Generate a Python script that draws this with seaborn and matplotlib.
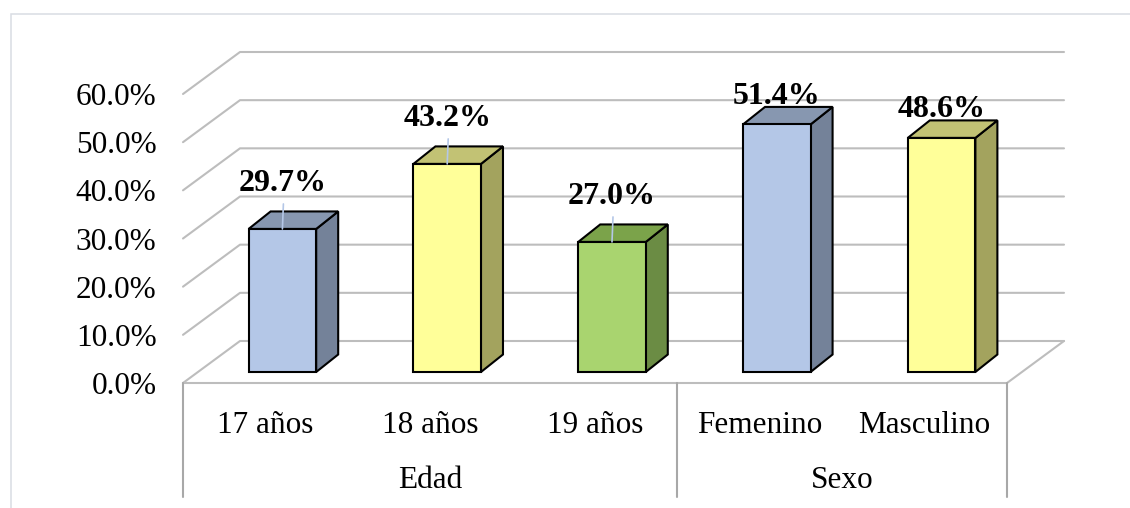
import numpy as np
import pandas as pd
import matplotlib
matplotlib.use("Agg")
import matplotlib.pyplot as plt
from matplotlib.patches import Polygon, Rectangle
from matplotlib.lines import Line2D
from matplotlib.transforms import ScaledTranslation, IdentityTransform, blended_transform_factory
import seaborn as sns

# ---- data -------------------------------------------------------------
categories = ["17 años", "18 años", "19 años", "Femenino", "Masculino"]
groups = ["Edad", "Sexo"]
group_sizes = [3, 2]
percentages = [29.7, 43.2, 27.0, 51.4, 48.6]
y_ticks = [0, 10, 20, 30, 40, 50, 60]

# ---- colours (front / top / side faces of each bar) --------------------
front_colors = ["#B4C7E7", "#FFFF99", "#A9D46F", "#B4C7E7", "#FFFF99"]
top_colors = ["#8797B0", "#C2C274", "#7BA34A", "#8797B0", "#C2C274"]
side_colors = ["#748299", "#A3A35E", "#6B8C44", "#748299", "#A3A35E"]
GRID = "#BDBDBD"
TABLE = "#A8A8A8"
LEADER = "#B4C7E7"

sns.set_theme(style="white")
plt.rcParams["font.family"] = ["Liberation Serif", "DejaVu Serif"]

DPI = 100
W, H = 1130, 508
fig = plt.figure(figsize=(W / DPI, H / DPI), dpi=DPI)
fig.patch.set_facecolor("white")

# axes = front plane of the floor / wall box
ax = fig.add_axes([183 / W, 125 / H, 824 / W, 289 / H])
ax.patch.set_alpha(0)

df = pd.DataFrame({"categoria": categories, "porcentaje": percentages})
sns.barplot(data=df, x="categoria", y="porcentaje", hue="categoria",
            palette=front_colors, saturation=1, width=0.41,
            edgecolor="black", linewidth=1.5, legend=False, ax=ax, zorder=3)

ax.set_xlim(-0.5, len(categories) - 0.5)
ax.set_ylim(y_ticks[0], y_ticks[-1])
for s in ax.spines.values():
    s.set_visible(False)
ax.set_xlabel("")
ax.set_ylabel("")

# depth vectors (pixels) of the oblique projection
WALL = np.array([57.0, 42.0])
BAR_FRONT = np.array([17.0, 11.0])
BAR_DEPTH = np.array([22.0, 17.5])


def px(x, y, shift=(0.0, 0.0)):
    return ax.transData.transform((x, y)) + np.asarray(shift)


ident = IdentityTransform()
x0, x1 = ax.get_xlim()

# back wall gridlines and side-wall diagonals
for t in y_ticks:
    fl, bl, br = px(x0, t), px(x0, t, WALL), px(x1, t, WALL)
    ax.add_line(Line2D([fl[0], bl[0], br[0]], [fl[1], bl[1], br[1]],
                       transform=ident, color=GRID, lw=1.5,
                       clip_on=False, zorder=1))
# floor front edge and right diagonal
f0, f1, b1 = px(x0, 0), px(x1, 0), px(x1, 0, WALL)
ax.add_line(Line2D([f0[0], f1[0], b1[0]], [f0[1], f1[1], b1[1]],
                   transform=ident, color=GRID, lw=1.5,
                   clip_on=False, zorder=1))

# 3D bars: move front faces, add top and side faces
front_shift = ScaledTranslation(BAR_FRONT[0] / DPI, BAR_FRONT[1] / DPI,
                                fig.dpi_scale_trans)
for patch in list(ax.patches):
    xl = patch.get_x()
    w = patch.get_width()
    h = patch.get_height()
    i = int(round(xl + w / 2))
    patch.set_transform(ax.transData + front_shift)
    patch.set_zorder(4)
    frb = px(xl + w, 0, BAR_FRONT)
    flt = px(xl, h, BAR_FRONT)
    frt = px(xl + w, h, BAR_FRONT)
    side = Polygon([frb, frt, frt + BAR_DEPTH, frb + BAR_DEPTH], closed=True,
                   facecolor=side_colors[i], edgecolor="black", lw=1.5,
                   transform=ident, clip_on=False, zorder=3)
    top = Polygon([flt, frt, frt + BAR_DEPTH, flt + BAR_DEPTH], closed=True,
                  facecolor=top_colors[i], edgecolor="black", lw=1.5,
                  transform=ident, clip_on=False, zorder=3)
    ax.add_patch(side)
    ax.add_patch(top)

    # value label with leader line
    ctop = px(xl + w / 2, h, BAR_FRONT)
    gap = 45 if h < 45 else 28
    if gap > 30:
        ax.add_line(Line2D([ctop[0], ctop[0] + 1], [ctop[1], ctop[1] + 25],
                           transform=ident, color=LEADER, lw=1.2,
                           clip_on=False, zorder=5))
    ax.text(ctop[0], ctop[1] + gap, f"{percentages[i]:.1f}%",
            transform=ident, ha="center", va="center",
            fontsize=23, fontweight="bold", color="black", zorder=6)

# axis ticks
ax.set_yticks(y_ticks)
ax.set_yticklabels([f"{t:.1f}%" for t in y_ticks])
ax.tick_params(axis="y", length=0, pad=19, labelsize=22.5, labelcolor="black")
ax.set_xticks(range(len(categories)))
ax.set_xticklabels(categories)
ax.tick_params(axis="x", length=0, pad=20.5, labelsize=22.5, labelcolor="black")

# category table below the floor
btrans = blended_transform_factory(ax.transData, ax.transAxes)
start = x0
edges = [x0]
for g, n in zip(groups, group_sizes):
    ax.text(start + n / 2, -0.338, g, transform=btrans, ha="center",
            va="center", fontsize=22.5, color="black")
    start += n
    edges.append(start)
for e in edges:
    ax.add_line(Line2D([e, e], [0, -0.394], transform=btrans, color=TABLE,
                       lw=1.5, clip_on=False, zorder=1))

# outer chart frame
fig.add_artist(Rectangle((10.5 / W, -0.1), 1.2, (H - 14.5) / H + 0.1,
                         transform=fig.transFigure, fill=False,
                         edgecolor="#D9DDE3", lw=1.1))

fig.savefig("out.png", dpi=DPI)
